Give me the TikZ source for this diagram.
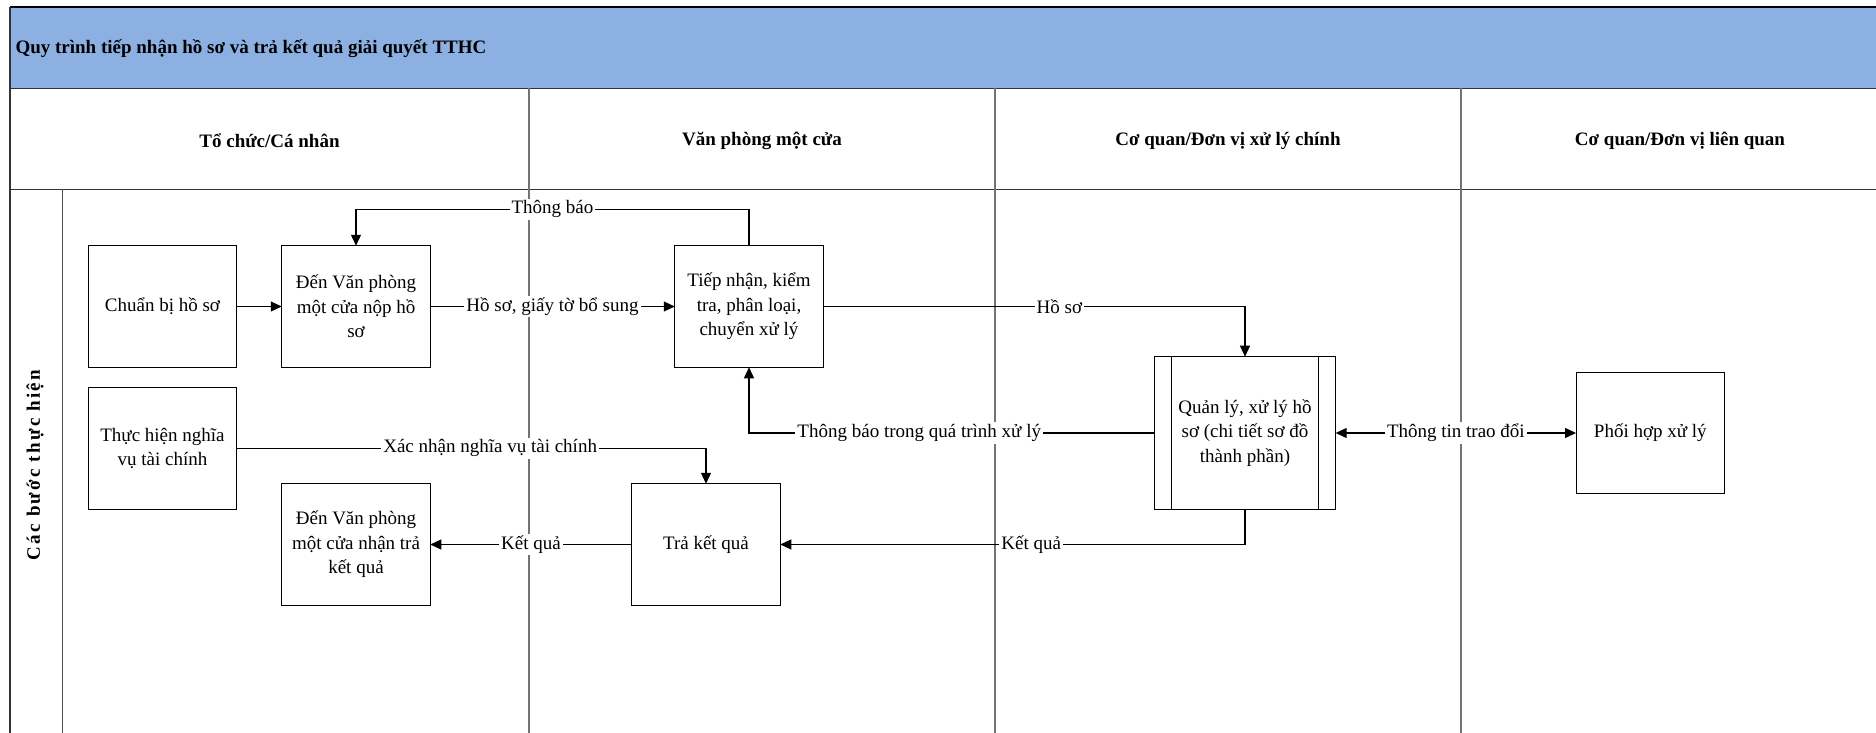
\documentclass[tikz,border=0pt]{standalone}
\usepackage{fontspec}
\setmainfont{Liberation Serif}
\usetikzlibrary{arrows.meta}
\definecolor{band}{HTML}{8DB0E3}
\begin{document}
\begin{tikzpicture}[x=1pt,y=-1pt,
  box/.style={draw=black, line width=1pt, minimum width=148.5pt, minimum height=121.5pt, inner sep=0pt, outer sep=0pt, align=center, font=\fontsize{19}{24.5}\selectfont},
  lbl/.style={fill=white, inner sep=2pt, font=\fontsize{19}{24}\selectfont},
  conn/.style={draw=black, line width=1.2pt, -{Triangle[length=11pt,width=10pt]}},
  hdr/.style={font=\bfseries\fontsize{19}{24}\selectfont},
  lanediv/.style={draw=black!55, line width=1.2pt},
  frame/.style={draw=black!80, line width=1.6pt}]
\useasboundingbox (0,0) rectangle (1876,733);
% title band
\fill[band] (10,7.3) rectangle (1876,88.5);
\draw[draw=black, line width=1.6pt] (10,7.3) -- (1876,7.3);
\draw[frame] (10,88.5) -- (1876,88.5);
\draw[frame] (10,189.3) -- (1876,189.3);
\draw[frame] (10,7.3) -- (10,733);
% column dividers
\draw[lanediv] (529,88.5) -- (529,733);
\draw[lanediv] (995,88.5) -- (995,733);
\draw[lanediv] (1461,88.5) -- (1461,733);
\draw[draw=black!70, line width=1.2pt] (62.5,189.3) -- (62.5,733);
% texts of the pool
\node[hdr, anchor=west] (title) at (12,49) {Quy trình tiếp nhận hồ sơ và trả kết quả giải quyết TTHC};
\node[hdr] (h1) at (269.5,141) {Tổ chức/Cá nhân};
\node[hdr] (h2) at (762,141) {Văn phòng một cửa};
\node[hdr] (h3) at (1228,141) {Cơ quan/Đơn vị xử lý chính};
\node[hdr] (h4) at (1680,141) {Cơ quan/Đơn vị liên quan};
\node[rotate=90, font=\bfseries\fontsize{19}{24}\selectfont\addfontfeatures{LetterSpace=12}] (lanelbl) at (35,465) {Các bước thực hiện};
% boxes
\node[box] (A) at (162.5,306.5) {Chuẩn bị hồ sơ};
\node[box] (B) at (356,306.5) {Đến Văn phòng\\một cửa nộp hồ\\sơ};
\node[box] (C) at (749,306.5) {Tiếp nhận, kiểm\\tra, phân loại,\\chuyển xử lý};
\node[box] (D) at (162.5,448.3) {Thực hiện nghĩa\\vụ tài chính};
\node[box] (E) at (356,544.5) {Đến Văn phòng\\một cửa nhận trả\\kết quả};
\node[box] (F) at (706,544.5) {Trả kết quả};
\node[box, minimum width=181.3pt, minimum height=152.6pt] (G) at (1245,433) {Quản lý, xử lý hồ\\sơ (chi tiết sơ đồ\\thành phần)};
\draw[line width=1pt] ([xshift=17pt]G.north west) -- ([xshift=17pt]G.south west);
\draw[line width=1pt] ([xshift=-17pt]G.north east) -- ([xshift=-17pt]G.south east);
\node[box] (H) at (1650.3,433) {Phối hợp xử lý};
% connectors
\draw[conn] (A.east) -- (B.west);
\draw[conn] (C.north) -- ([yshift=36.4pt]C.north) -| node[lbl, pos=0.25] {Thông báo} (B.north);
\draw[conn] (B.east) -- node[lbl] {Hồ sơ, giấy tờ bổ sung} (C.west);
\draw[conn] (C.east) -| node[lbl, pos=0.28] {Hồ sơ} (G.north);
\draw[conn] (G.west) -| node[lbl, pos=0.29] {Thông báo trong quá trình xử lý} (C.south);
\draw[conn] (D.east) -| node[lbl, pos=0.27] {Xác nhận nghĩa vụ tài chính} (F.north);
\draw[conn] (G.south) |- node[lbl, pos=0.73] {Kết quả} (F.east);
\draw[conn] (F.west) -- node[lbl] {Kết quả} (E.east);
\draw[conn, {Triangle[length=11pt,width=10pt]}-{Triangle[length=11pt,width=10pt]}] (G.east) -- node[lbl] {Thông tin trao đổi} (H.west);
\end{tikzpicture}
\end{document}
